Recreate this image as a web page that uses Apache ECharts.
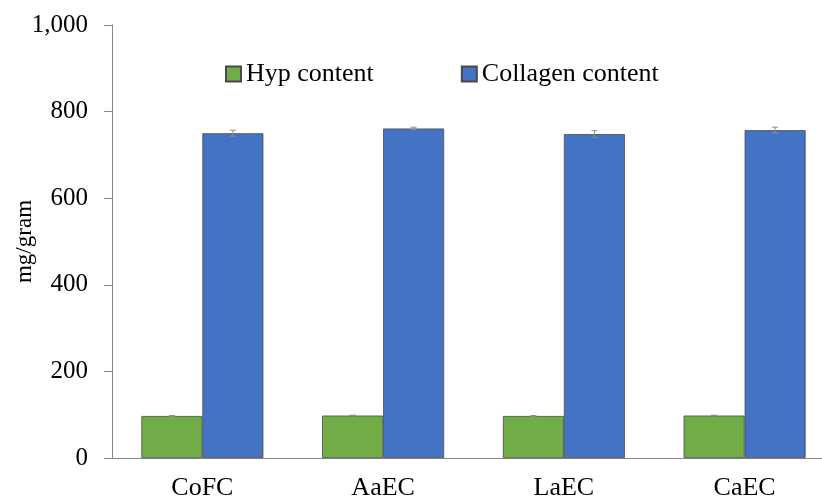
<!DOCTYPE html>
<html><head><meta charset="utf-8">
<script src="https://cdn.jsdelivr.net/npm/echarts@6/dist/echarts.min.js"></script>
<style>html,body{margin:0;padding:0;background:#fff}#c{width:822px;height:500px}</style>
</head><body><div id="c"></div>
<script>
const categories = ['CoFC', 'AaEC', 'LaEC', 'CaEC'];
const hypValues = [97, 98, 97, 98];
const hypErrors = [1, 1, 1, 1];
const collagenValues = [750, 761, 748, 757];
const collagenErrors = [7, 3, 8, 7];
const yTicks = [0, 200, 400, 600, 800, 1000];

const BAR_W = 61;
const FONT = '"Liberation Serif", "Times New Roman", serif';

function errorSeries(values, errs, offset) {
  return {
    type: 'custom',
    z: 10,
    silent: true,
    data: values.map((v, i) => [i, v - errs[i], v + errs[i]]),
    renderItem: function (params, api) {
      const lo = api.coord([api.value(0), api.value(1)]);
      const hi = api.coord([api.value(0), api.value(2)]);
      const x = lo[0] + offset;
      const cw = 3;
      const st = { stroke: '#8c8c8c', lineWidth: 1 };
      return {
        type: 'group',
        children: [
          { type: 'line', shape: { x1: x, y1: lo[1], x2: x, y2: hi[1] }, style: st },
          { type: 'line', shape: { x1: x - cw, y1: lo[1], x2: x + cw, y2: lo[1] }, style: st },
          { type: 'line', shape: { x1: x - cw, y1: hi[1], x2: x + cw, y2: hi[1] }, style: st }
        ]
      };
    }
  };
}

const chart = echarts.init(document.getElementById('c'), null, { renderer: 'canvas' });
chart.setOption({
  animation: false,
  backgroundColor: '#fff',
  textStyle: { fontFamily: FONT },
  grid: { left: 112, top: 25, width: 723, height: 433, containLabel: false, outerBoundsMode: 'none' },
  legend: {
    left: 220, top: 56,
    itemWidth: 15, itemHeight: 15, itemGap: 87,
    data: ['Hyp content', 'Collagen content'],
    textStyle: { fontFamily: FONT, fontSize: 26, color: '#000' },
    icon: 'rect'
  },
  xAxis: {
    type: 'category',
    data: categories,
    axisLine: { lineStyle: { color: '#868686', width: 1 } },
    axisTick: { show: false },
    axisLabel: { fontFamily: FONT, fontSize: 26, color: '#000', margin: 17 }
  },
  yAxis: {
    type: 'value',
    min: yTicks[0], max: yTicks[yTicks.length - 1], interval: 200,
    name: 'mg/gram',
    nameLocation: 'middle',
    nameRotate: 90,
    nameGap: 76,
    nameMoveOverlap: false,
    nameTextStyle: { fontFamily: FONT, fontSize: 23, color: '#000' },
    axisLine: { show: true, lineStyle: { color: '#868686', width: 1 } },
    axisTick: { show: true, length: 8, lineStyle: { color: '#868686' } },
    splitLine: { show: false },
    axisLabel: {
      fontFamily: FONT, fontSize: 25, color: '#000', margin: 24,
      formatter: v => v.toLocaleString('en-US')
    }
  },
  series: [
    {
      name: 'Hyp content', type: 'bar', data: hypValues, barWidth: BAR_W, barGap: '0%',
      itemStyle: { color: '#70AD47', borderColor: '#4a4a4a', borderWidth: 0.8 }
    },
    {
      name: 'Collagen content', type: 'bar', data: collagenValues, barWidth: BAR_W,
      itemStyle: { color: '#4472C4', borderColor: '#4a4a4a', borderWidth: 0.8 }
    },
    errorSeries(hypValues, hypErrors, -BAR_W / 2),
    errorSeries(collagenValues, collagenErrors, BAR_W / 2)
  ]
});
</script></body></html>
